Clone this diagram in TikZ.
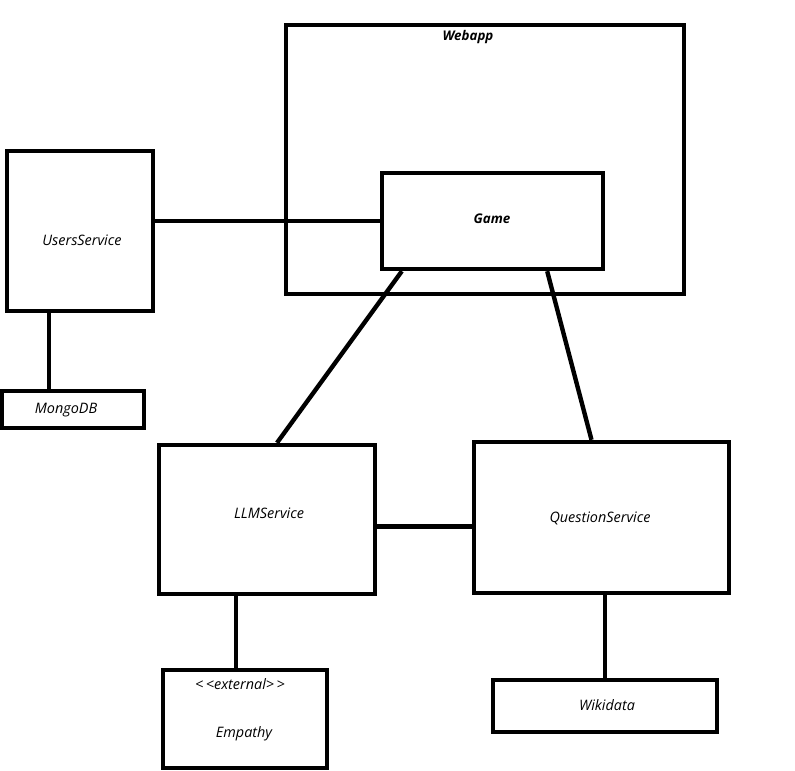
\documentclass[tikz,border=0pt]{standalone}
\usepackage{fontspec}
\setmainfont{Open Sans}
\usetikzlibrary{calc}
\begin{document}
\begin{tikzpicture}[x=.02cm,y=-.02cm,line width=2.5pt,
  box/.style={draw,rectangle,inner sep=0pt},
  lbl/.style={inner sep=0pt,font=\itshape\fontsize{8.2}{10}\selectfont},
  blbl/.style={inner sep=0pt,font=\bfseries\itshape\fontsize{7.6}{9}\selectfont}]
  \useasboundingbox (0,0) rectangle (795,771);
  \node[box,minimum width=7.96cm,minimum height=5.38cm] (webapp) at (485,159.5) {};
  \node[blbl] (webapp-t) at (468,37) {Webapp};
  \node[box,minimum width=4.42cm,minimum height=1.92cm] (game) at (492.5,221) {};
  \node[blbl] (game-t) at (492,219) {Game};
  \node[box,minimum width=2.92cm,minimum height=3.2cm] (users) at (80,231) {};
  \node[lbl] (users-t) at (82,240) {UsersService};
  \node[box,minimum width=2.84cm,minimum height=.74cm] (mongo) at (73,409.5) {};
  \node[lbl] (mongo-t) at (66,410) {MongoDB};
  \node[box,minimum width=4.32cm,minimum height=2.98cm] (llm) at (267,519.5) {};
  \node[lbl] (llm-t) at (269,513) {LLMService};
  \node[box,minimum width=5.10cm,minimum height=3.02cm] (qs) at (601.5,517.5) {};
  \node[lbl] (qs-t) at (600,518) {QuestionService};
  \node[box,minimum width=3.28cm,minimum height=1.96cm] (emp) at (245,719) {};
  \node[lbl] (emp-s) at (240,684) {<\,<external>\,>};
  \node[lbl] (emp-t) at (244,734) {Empathy};
  \node[box,minimum width=4.48cm,minimum height=1.04cm] (wiki) at (605,706) {};
  \node[lbl] (wiki-t) at (607,705) {Wikidata};

  \coordinate (users-m) at ($(users.south)+(-31,0)$);
  \coordinate (llm-q) at ($(llm.east)+(0,7)$);
  \coordinate (llm-e) at ($(llm.south)+(-31,0)$);
  \draw (users.east |- game.west) -- (game.west);
  \draw (users-m) -- (users-m |- mongo.north);
  \draw ($(game.south west)+(22,0)$) -- ($(llm.north)+(10,0)$);
  \draw ($(game.south east)+(-58,0)$) -- ($(qs.north)+(-10,0)$);
  \draw (llm-q) -- (llm-q -| qs.west);
  \draw (llm-e) -- (llm-e |- emp.north);
  \draw (wiki.north |- qs.south) -- (wiki.north);
\end{tikzpicture}
\end{document}
